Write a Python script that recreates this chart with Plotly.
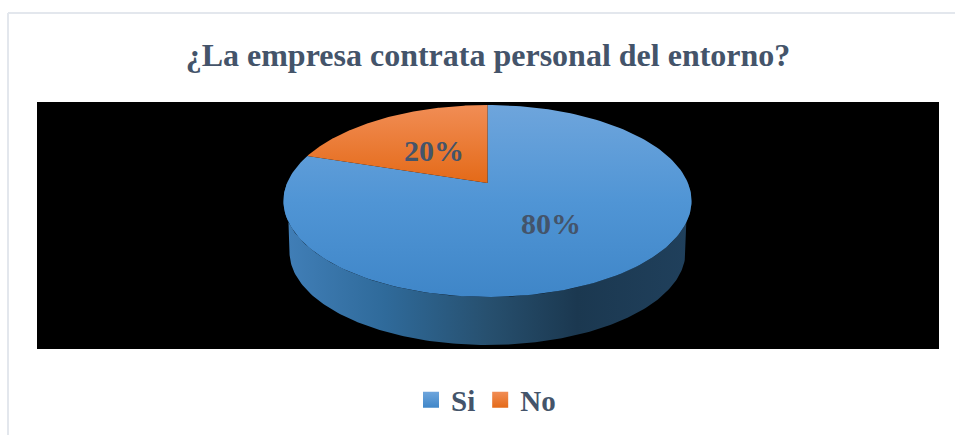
import numpy as np
import plotly.graph_objects as go

# Chart values
categories = ["Si", "No"]
percentages = [80, 20]
title_text = "¿La empresa contrata personal del entorno?"

# Colours
TEXT_COLOR = "#44546a"
BORDER_COLOR = "#e3e7ed"
# 0 is the bottom of each gradient
TOP_SCALES = {
    "Si": [[0, "#3f86c8"], [0.5, "#5095d5"], [1, "#6ea5dc"]],
    "No": [[0, "#e46a18"], [1, "#f18d55"]],
}
LEGEND_COLORS = {"Si": ("#6ea5dc", "#3f86c8"), "No": ("#f18d55", "#e46a18")}
SIDE_SCALE = [[0, "#417fb8"], [0.25, "#2f6a9a"], [0.5, "#27506f"], [0.72, "#1b3850"], [1, "#20405c"]]

# Plot area in page pixels, axes run in the same units
LEFT, RIGHT, TOP, BOTTOM = 37, 939, 102, 349
W, H = 955, 435

# Perspective projection of the round pie
APEX_X, APEX_Y = 487.5, 183
SCALE_X, SCALE_Y, TILT = 200.4, 92.6, 0.1875


def project(angle_deg):
    """Clockwise angle from 12 o'clock to a point on the rim of the top face."""
    a = np.radians(angle_deg)
    u, v = np.sin(a), np.cos(a)
    d = 1 + TILT * v
    return APEX_X + SCALE_X * u / d, APEX_Y - SCALE_Y * v / d


def side_wall():
    # Front rim of the top face, then the narrower bottom rim back again
    x1, y1 = project(np.arange(270, 89, -1))
    t = np.radians(np.arange(90, 271))
    x2 = APEX_X + 198 * np.sin(t)
    y2 = 252 - 93 * np.cos(t)
    return np.r_[x1, x2], np.r_[y1, y2]


fig = go.Figure()

side_x, side_y = side_wall()
fig.add_trace(go.Scatter(
    x=side_x, y=side_y, mode="lines", fill="toself", line=dict(width=0),
    fillgradient=dict(type="horizontal", colorscale=SIDE_SCALE),
    showlegend=False, hoverinfo="skip",
))

# Slices start at 12 o'clock and run clockwise
start = 0
total = sum(percentages)
for name, value in zip(categories, percentages):
    sweep = 360 * value / total
    rim_x, rim_y = project(np.linspace(start, start + sweep, 181))
    fig.add_trace(go.Scatter(
        x=np.r_[APEX_X, rim_x, APEX_X], y=np.r_[APEX_Y, rim_y, APEX_Y],
        mode="lines", fill="toself", line=dict(width=0),
        fillgradient=dict(type="vertical", colorscale=TOP_SCALES[name]),
        showlegend=False, name=name,
        hovertemplate=f"{name}: {value}%<extra></extra>",
    ))
    start += sweep

# Percent labels
label_pos = {"Si": (551, 223), "No": (434, 150)}
for name, value in zip(categories, percentages):
    fig.add_annotation(
        x=label_pos[name][0], y=label_pos[name][1], text=f"{value}%", showarrow=False,
        font=dict(family="Liberation Serif", size=30, color=TEXT_COLOR, weight="bold"),
    )

# Legend entries
for name in categories:
    fig.add_trace(go.Scatter(
        x=[None], y=[None], mode="markers", name=name,
        marker=dict(symbol="square", size=16, color=LEGEND_COLORS[name][0],
                    gradient=dict(type="vertical", color=LEGEND_COLORS[name][1])),
    ))

# Thin frame of the original chart box, open at the bottom
fig.add_shape(type="line", xref="paper", yref="paper", x0=8 / W, x1=1,
              y0=1 - 13 / H, y1=1 - 13 / H, line=dict(color=BORDER_COLOR, width=2))
fig.add_shape(type="line", xref="paper", yref="paper", x0=8 / W, x1=8 / W,
              y0=1 - 13 / H, y1=0, line=dict(color=BORDER_COLOR, width=2))

# Zero margins and axis domains, so the legend stays inside the paper and does not push the plot
fig.update_layout(
    width=W, height=H,
    margin=dict(l=0, r=0, t=0, b=0, pad=0),
    paper_bgcolor="white", plot_bgcolor="black",
    title=dict(
        text=title_text, x=488 / W, xanchor="center", y=1 - 55 / H, yanchor="middle",
        font=dict(family="Liberation Serif", size=32, color=TEXT_COLOR, weight="bold"),
    ),
    xaxis=dict(domain=[LEFT / W, RIGHT / W], range=[LEFT, RIGHT], visible=False, fixedrange=True),
    yaxis=dict(domain=[1 - BOTTOM / H, 1 - TOP / H], range=[BOTTOM, TOP], visible=False, fixedrange=True),
    legend=dict(
        orientation="h", x=486 / W, xanchor="center", y=1 - 400 / H, yanchor="middle",
        font=dict(family="Liberation Serif", size=29, color=TEXT_COLOR, weight="bold"),
        bgcolor="rgba(0,0,0,0)",
    ),
)

# Drop the browser's default page margin so the figure sits at 0,0
fig.write_html("out.html", config={"displayModeBar": False},
               post_script="document.body.style.margin = '0';")
